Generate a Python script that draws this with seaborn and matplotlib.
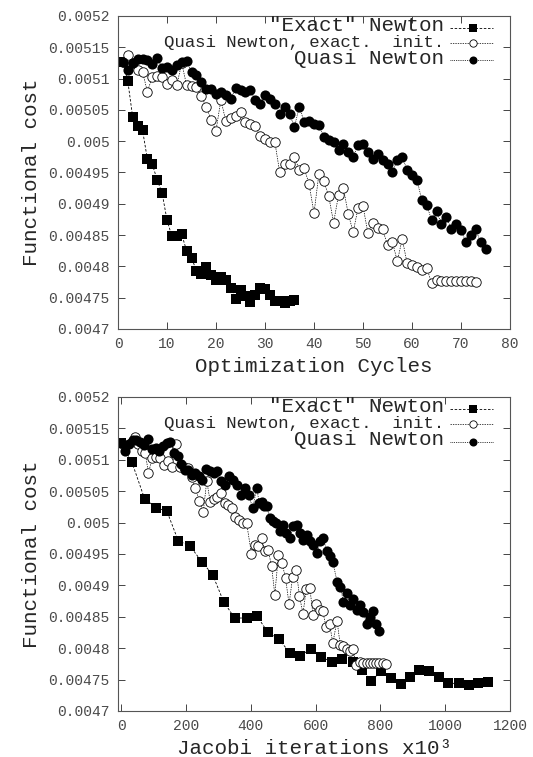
import matplotlib
matplotlib.use('Agg')
import matplotlib.pyplot as plt
import pandas as pd
import seaborn as sns

# values
exact_cost = [0.005126, 0.005096, 0.005038, 0.005024, 0.005018, 0.004971, 0.004963, 0.004938,
              0.004917, 0.004874, 0.004848, 0.004848, 0.004851, 0.004825, 0.004814, 0.004793,
              0.004788, 0.004799, 0.004786, 0.004778, 0.004783, 0.004778, 0.004766, 0.004748,
              0.004763, 0.004752, 0.004743, 0.004754, 0.004766, 0.004764, 0.004754, 0.004744,
              0.004744, 0.004742, 0.004745, 0.004746]

qn_init_cost = [0.005126, 0.005137, 0.005125, 0.005114, 0.005111, 0.005079, 0.005103, 0.005104,
                0.005103, 0.005091, 0.005098, 0.005089, 0.005125, 0.005089, 0.005088, 0.005087,
                0.005072, 0.005055, 0.005034, 0.005017, 0.005066, 0.005032, 0.005037, 0.005041,
                0.005047, 0.005031, 0.005028, 0.005024, 0.005009, 0.005004, 0.004999, 0.004999,
                0.004950, 0.004964, 0.004963, 0.004975, 0.004954, 0.004957, 0.004931, 0.004885,
                0.004948, 0.004936, 0.004912, 0.004870, 0.004914, 0.004925, 0.004883, 0.004855,
                0.004894, 0.004896, 0.004853, 0.004870, 0.004861, 0.004859, 0.004834, 0.004839,
                0.004808, 0.004844, 0.004805, 0.004803, 0.004799, 0.004795, 0.004798, 0.004773,
                0.004778, 0.004776, 0.004777, 0.004776, 0.004777, 0.004776, 0.004777, 0.004776,
                0.004775]

qn_cost = [0.005126, 0.005114, 0.005125, 0.005132, 0.005131, 0.005129, 0.005124, 0.005133,
           0.005117, 0.005119, 0.005114, 0.005122, 0.005127, 0.005128, 0.005111, 0.005106,
           0.005094, 0.005083, 0.005084, 0.005076, 0.005079, 0.005074, 0.005067, 0.005085,
           0.005082, 0.005079, 0.005082, 0.005066, 0.005060, 0.005074, 0.005068, 0.005060,
           0.005044, 0.005055, 0.005044, 0.005023, 0.005055, 0.005031, 0.005032, 0.005027,
           0.005026, 0.005007, 0.005002, 0.004999, 0.004986, 0.004996, 0.004983, 0.004975,
           0.004994, 0.004996, 0.004983, 0.004972, 0.004980, 0.004970, 0.004964, 0.004951,
           0.004970, 0.004975, 0.004954, 0.004946, 0.004938, 0.004906, 0.004898, 0.004874,
           0.004888, 0.004868, 0.004879, 0.004860, 0.004868, 0.004858, 0.004839, 0.004850,
           0.004859, 0.004839, 0.004828]

# jacobi iterations (x10^3) for each cycle
exact_jacobi = [0, 33, 72, 107, 141, 176, 212, 248, 282, 316, 350, 387, 419, 453, 487, 520,
                553, 585, 617, 651, 682, 715, 744, 771, 802, 833, 862, 891, 920, 951, 982,
                1010, 1041, 1072, 1102, 1133]

qn_init_jacobi = [0, 43, 53, 64, 74, 84, 96, 108, 120, 132, 144, 156, 169, 181, 193, 205,
                  217, 229, 241, 253, 264, 275, 286, 297, 308, 319, 330, 341, 352, 363, 375,
                  387, 402, 412, 422, 433, 443, 453, 464, 474, 485, 496, 507, 518, 529, 540,
                  550, 561, 571, 582, 592, 602, 612, 622, 632, 643, 653, 666, 676, 686, 696,
                  706, 715, 725, 737, 747, 757, 767, 777, 787, 797, 807, 817]

qn_jacobi = [0, 11, 23, 35, 47, 58, 70, 82, 94, 106, 118, 129, 141, 152, 163, 174, 185, 196,
             207, 218, 228, 239, 250, 261, 273, 285, 297, 309, 321, 333, 345, 357, 369, 381,
             393, 406, 418, 426, 434, 442, 450, 458, 468, 479, 489, 499, 510, 520, 530, 541,
             551, 562, 572, 583, 593, 604, 614, 624, 634, 644, 653, 666, 676, 686, 696, 706,
             716, 727, 737, 747, 757, 767, 777, 787, 797]

labels = ['"Exact" Newton', 'Quasi Newton, exact.  init.', 'Quasi Newton']

ytick_vals = [0.0047, 0.00475, 0.0048, 0.00485, 0.0049, 0.00495, 0.005, 0.00505, 0.0051, 0.00515, 0.0052]
ytick_text = ['0.0047', '0.00475', '0.0048', '0.00485', '0.0049', '0.00495', '0.005',
              '0.00505', '0.0051', '0.00515', '0.0052']
xtick_cycles = [0, 10, 20, 30, 40, 50, 60, 70, 80]
xtick_jacobi = [0, 200, 400, 600, 800, 1000, 1200]

sns.set_style('ticks')
plt.rcParams['font.family'] = ['Liberation Mono', 'DejaVu Sans']

# style of each series: marker, size, face, dash pattern
styles = [
    dict(marker='s', markersize=7.5, markerfacecolor='k', markeredgecolor='k',
         markeredgewidth=0, linestyle=(0, (3, 2)), linewidth=0.6),
    dict(marker='o', markersize=6.8, markerfacecolor='white', markeredgecolor='k',
         markeredgewidth=0.6, linestyle=(0, (2, 1.5)), linewidth=0.5),
    dict(marker='o', markersize=7.3, markerfacecolor='k', markeredgecolor='k',
         markeredgewidth=0, linestyle=(0, (1, 1.2)), linewidth=0.6),
]
legend_sizes = [15, 12.5, 15]

fig = plt.figure(figsize=(5.33, 7.57), dpi=100)
ax1 = fig.add_axes([0.2214, 0.5654, 0.7355, 0.4135])
ax2 = fig.add_axes([0.2214, 0.0608, 0.7355, 0.4148])


def draw(ax, xs):
    costs = [exact_cost, qn_init_cost, qn_cost]
    for x, y, st in zip(xs, costs, styles):
        sns.lineplot(x=x, y=y, ax=ax, color='k', estimator=None, sort=False, **st)
    ax.set_ylim(0.0047, 0.0052)
    ax.set_yticks(ytick_vals)
    ax.set_yticklabels(ytick_text)
    ax.set_ylabel('Functional cost', fontsize=15, labelpad=5)
    ax.tick_params(direction='in', top=True, right=True, length=5, width=0.6,
                   labelsize=10.5, labelcolor='#4a4a4a', pad=6)
    for s in ax.spines.values():
        s.set_linewidth(0.8)
        s.set_color('#555555')

    # gnuplot style key: text right aligned, sample on the right
    rows = [0.951, 0.901, 0.846]
    for lab, fs, yb, st in zip(labels, legend_sizes, rows, styles):
        ax.text(0.832, yb, lab, fontsize=fs, ha='right', va='baseline',
                transform=ax.transAxes)
        ax.plot([0.847, 0.957], [yb + 0.012] * 2, transform=ax.transAxes, color='k',
                linestyle=st['linestyle'], linewidth=st['linewidth'], clip_on=False)
        ax.plot([0.906], [yb + 0.012], transform=ax.transAxes, color='k',
                marker=st['marker'], markersize=st['markersize'] - 1.5,
                markerfacecolor=st['markerfacecolor'], markeredgecolor='k',
                markeredgewidth=st['markeredgewidth'], clip_on=False)


draw(ax1, [range(1, len(exact_cost) + 1), range(1, len(qn_init_cost) + 1),
           range(1, len(qn_cost) + 1)])
ax1.set_xlim(0, 80)
ax1.set_xticks(xtick_cycles)
ax1.set_xlabel('Optimization Cycles', fontsize=15, labelpad=4)

draw(ax2, [exact_jacobi, qn_init_jacobi, qn_jacobi])
ax2.set_xlim(-10, 1200)
ax2.set_xticks(xtick_jacobi)
ax2.set_xlabel('Jacobi iterations x10³', fontsize=15, labelpad=4)

fig.savefig('out.png', dpi=100)
